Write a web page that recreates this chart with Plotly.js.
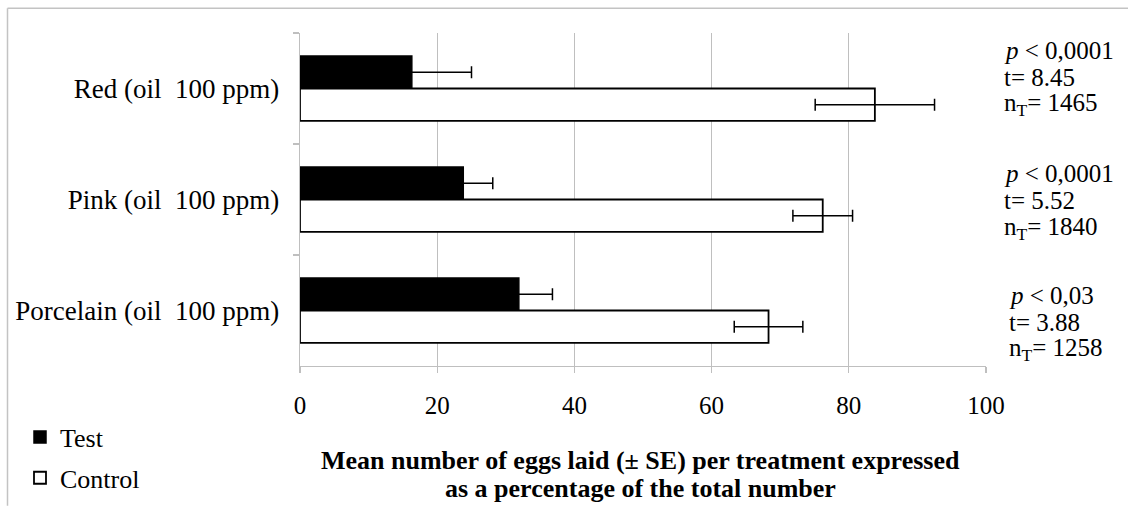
<!DOCTYPE html>
<html>
<head>
<meta charset="utf-8">
<script src="https://cdn.plot.ly/plotly-3.0.1.min.js"></script>
<style>html,body{margin:0;padding:0;background:#fff;}</style>
</head>
<body>
<div id="chart" style="width:1128px;height:514px;"></div>
<script>
const categories = ['Red (oil\u00a0 100 ppm)', 'Pink (oil\u00a0 100 ppm)', 'Porcelain (oil\u00a0 100 ppm)'];
const testMean = [16.3, 23.8, 31.9];
const testSE = [8.7, 4.3, 4.9];
const controlMean = [83.8, 76.2, 68.3];
const controlSE = [8.7, 4.35, 5.0];
const pValues = ['&lt; 0,0001', '&lt; 0,0001', '&lt; 0,03'];
const tValues = ['8.45', '5.52', '3.88'];
const nValues = ['1465', '1840', '1258'];
const seriesNames = ['Test', 'Control'];
const xTicks = [0, 20, 40, 60, 80, 100];
const titleLines = ['Mean number of eggs laid (± SE) per treatment expressed', 'as a percentage of the total number'];

const serif = 'Liberation Serif, Times New Roman, serif';

const traces = [
  {
    type: 'bar', orientation: 'h', name: seriesNames[0], legendgroup: 'a',
    y: categories, x: testMean,
    marker: {color: '#000', line: {color: '#000', width: 1.5}},
    error_x: {type: 'data', array: testSE, visible: true, color: '#000', thickness: 1.5, width: 6}
  },
  {
    type: 'bar', orientation: 'h', name: seriesNames[1], legendgroup: 'b',
    y: categories, x: controlMean,
    marker: {color: '#fff', line: {color: '#000', width: 1.8}},
    error_x: {type: 'data', array: controlSE, visible: true, color: '#000', thickness: 1.5, width: 6}
  }
];

// plot area pixel geometry
const L = 300, R = 142, T = 33, B = 138, W = 1128, H = 514;
const pw = W - L - R, ph = H - T - B;
const px = v => (v - L) / pw;
const py = v => 1 - (v - T) / ph;

const annotations = [];
const groupTop = [51, 178, 303];
const groupShift = [0, 0, 5];
categories.forEach((c, i) => {
  const lines = ['<i>p</i> ' + pValues[i], 't= ' + tValues[i], 'n<sub>T</sub>= ' + nValues[i]];
  lines.forEach((txt, j) => {
    annotations.push({
      xref: 'paper', yref: 'paper', x: px(1002 + groupShift[i]), y: py(groupTop[i] + j * 28),
      xanchor: 'left', yanchor: 'middle', showarrow: false, text: txt,
      font: {family: serif, size: 25, color: '#000'}
    });
  });
});
titleLines.forEach((t, k) => {
  annotations.push({
    xref: 'paper', yref: 'paper', x: 0.5, xshift: -3, y: py(473 + k * 29), yanchor: 'middle', xanchor: 'center',
    showarrow: false, text: '<b>' + t + '</b>',
    font: {family: serif, size: 26, color: '#000'}
  });
});

const frameColor = '#c3c3c3';
const layout = {
  width: W, height: H,
  margin: {l: L, r: R, t: T, b: B, pad: 0},
  paper_bgcolor: '#fff', plot_bgcolor: '#fff',
  barmode: 'group', bargap: 0.415, bargroupgap: 0,
  font: {family: serif, color: '#000'},
  showlegend: true,
  legend: {
    x: px(20), y: py(425), xanchor: 'left', yanchor: 'top',
    traceorder: 'grouped', tracegroupgap: 4,
    font: {family: serif, size: 26, color: '#000'},
    bgcolor: 'rgba(0,0,0,0)'
  },
  xaxis: {
    range: [0, 100], tickvals: xTicks, ticktext: xTicks.map(String),
    showgrid: true, gridcolor: '#bfbfbf', gridwidth: 1.3,
    showline: true, linecolor: '#bfbfbf', linewidth: 1.3,
    ticks: 'outside', ticklen: 6, tickcolor: '#bfbfbf', tickwidth: 1.3,
    zeroline: false, fixedrange: true,
    tickfont: {family: serif, size: 25, color: '#000'},
    ticklabelstandoff: 11
  },
  yaxis: {
    type: 'category', autorange: 'reversed',
    tickson: 'boundaries', ticks: 'outside', ticklen: 6, tickcolor: '#bfbfbf', tickwidth: 1.3,
    showline: true, linecolor: '#bfbfbf', linewidth: 1.3,
    showgrid: false, zeroline: false, fixedrange: true,
    tickfont: {family: serif, size: 27, color: '#000'},
    ticklabelstandoff: 14
  },
  shapes: [
    {type: 'line', xref: 'paper', yref: 'paper', x0: px(7.5), x1: px(7.5), y0: py(7.5), y1: py(520), line: {color: frameColor, width: 1.5}},
    {type: 'line', xref: 'paper', yref: 'paper', x0: px(7.5), x1: px(1130), y0: py(7.5), y1: py(7.5), line: {color: frameColor, width: 1.5}}
  ],
  annotations: annotations
};

Plotly.newPlot('chart', traces, layout, {displayModeBar: false, staticPlot: true});
</script>
</body>
</html>
